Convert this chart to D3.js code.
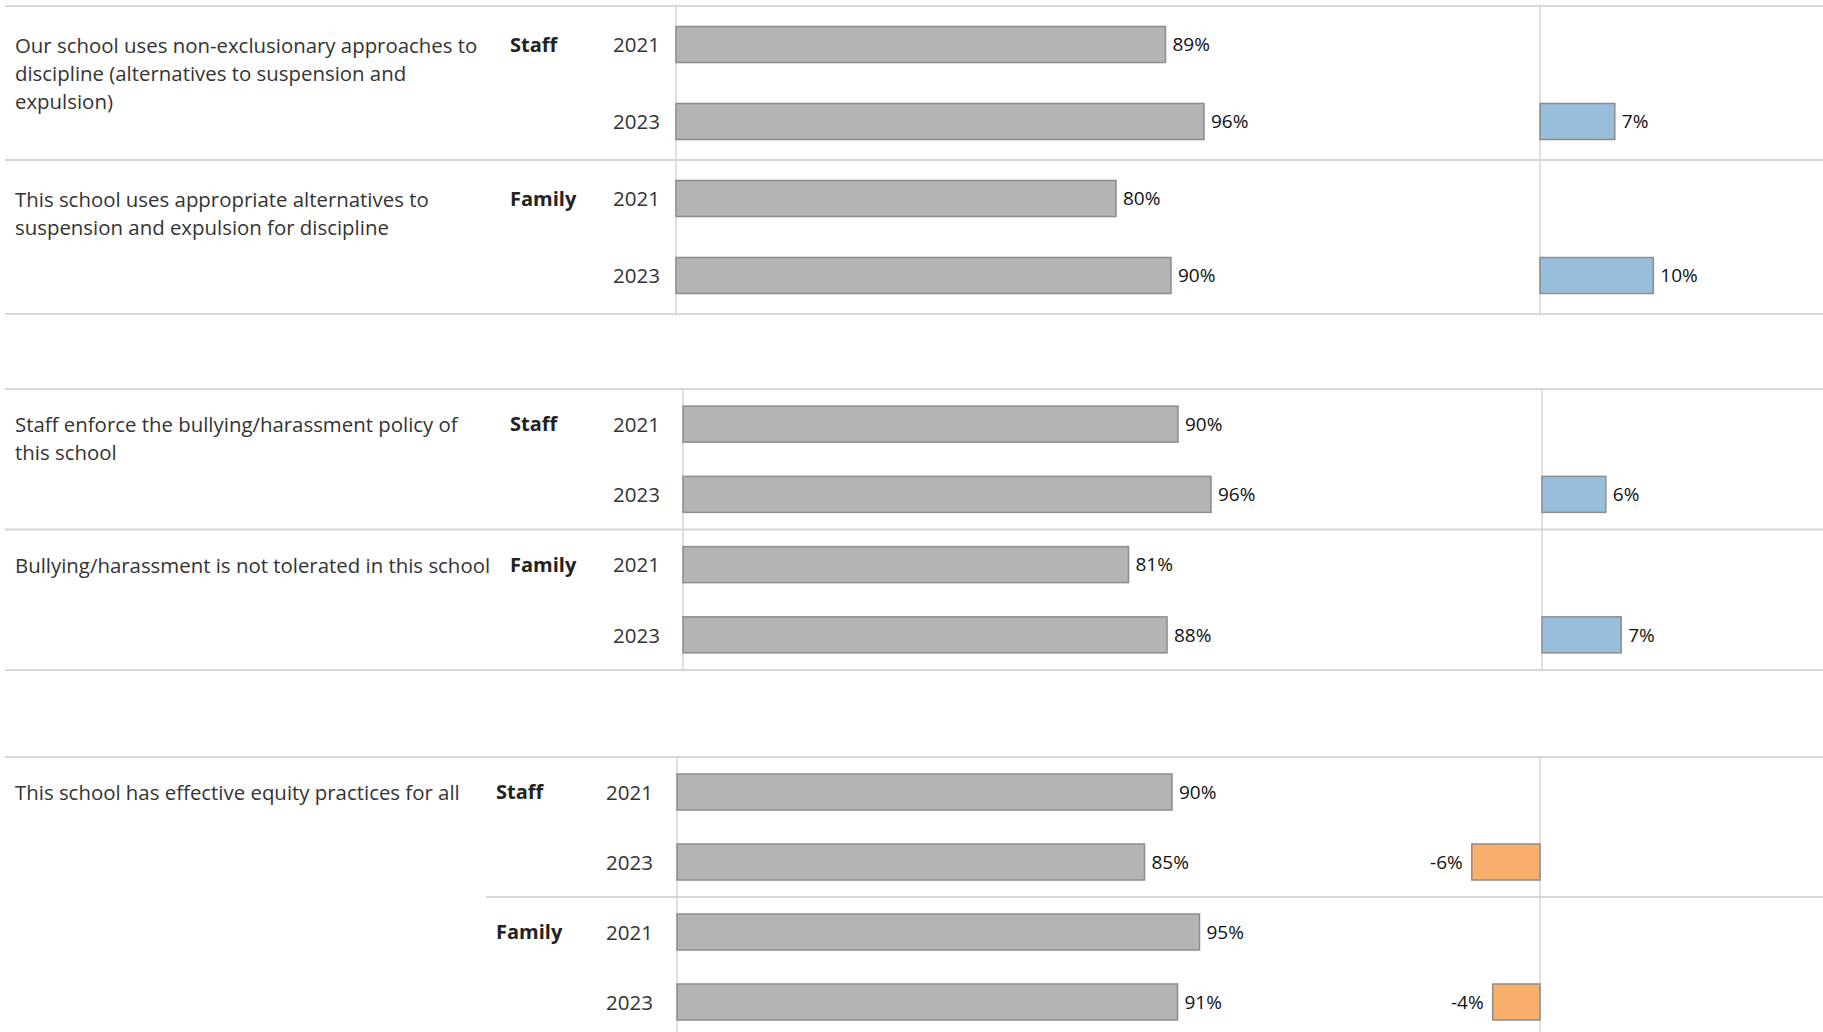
<!DOCTYPE html>
<html>
<head>
<meta charset="utf-8">
<script src="https://cdn.jsdelivr.net/npm/d3@7"></script>
<style>
    body { margin: 0; background: #fff; }
    svg { display: block; font-family: "Open Sans", Roboto, sans-serif; }
    .question { font-size: 20.4px; fill: #333; }
    .group { font-size: 20px; font-weight: bold; fill: #222; }
    .year { font-size: 20.5px; fill: #333; }
    .val { font-size: 19px; fill: #111; }
    .grid { stroke: #d6d6d6; }
</style>
</head>
<body>
<svg id="chart" width="1823" height="1032"></svg>
<script>
// survey items, one per question
const questions = [
    "Our school uses non-exclusionary approaches to\ndiscipline (alternatives to suspension and\nexpulsion)",
    "This school uses appropriate alternatives to\nsuspension and expulsion for discipline",
    "Staff enforce the bullying/harassment policy of\nthis school",
    "Bullying/harassment is not tolerated in this school",
    "This school has effective equity practices for all"
];
// one entry per row (question x respondent group)
const rowQuestion = [0, 1, 2, 3, 4, 4];
const rowGroup = ["Staff", "Family", "Staff", "Family", "Staff", "Family"];
const rowPanel = [0, 0, 1, 1, 2, 2];
const years = ["2021", "2023"];
const pct2021 = [89, 80, 90, 81, 90, 95];
const pct2023 = [96, 90, 96, 88, 85, 91];
// change 2021 -> 2023 (percentage points, before rounding)
const change = [6.8, 10.3, 5.8, 7.2, -6.2, -4.3];

/** panel layout (one tableau sheet each) */
const panels = [
    {top: 6, rowH: 154, axisX: 676, divX: 1540, groupX: 510, yearX: 660, sepX: 5},
    {top: 389, rowH: 140.5, axisX: 683, divX: 1542, groupX: 510, yearX: 660, sepX: 5},
    {top: 757, rowH: 140, axisX: 677, divX: 1540, groupX: 496, yearX: 653, sepX: 486}
];

const W = 1823, H = 1032;
const svg = d3.select("#chart");
const fmt = v => Math.round(v) + "%";

panels.forEach(function(p, pi) {
    let rows = d3.range(rowPanel.length).filter(i => rowPanel[i] === pi);
    let bottom = p.top + rows.length * p.rowH;

    let yRow = d3.scaleBand().domain(rows).range([p.top, bottom]);
    let pad = 1 - 72 / p.rowH;
    let yYear = d3.scaleBand().domain(years).range([0, p.rowH]).paddingInner(pad).paddingOuter(pad / 2);

    let x = d3.scaleLinear().domain([0, 100]).range([p.axisX, p.axisX + 550]);
    let xc = d3.scaleLinear().domain([0, 10]).range([p.divX, p.divX + 110]);

    let g = svg.append("g");

    // grid lines
    g.append("line").attr("class", "grid")
        .attr("x1", 5).attr("x2", W).attr("y1", p.top).attr("y2", p.top)
        .attr("stroke-width", 2);
    rows.slice(1).forEach(function(r) {
        g.append("line").attr("class", "grid")
            .attr("x1", p.sepX).attr("x2", W).attr("y1", yRow(r)).attr("y2", yRow(r))
            .attr("stroke-width", 2);
    });
    let lineBottom = Math.min(bottom, H);
    if (bottom < H) {
        g.append("line").attr("class", "grid")
            .attr("x1", 5).attr("x2", W).attr("y1", bottom).attr("y2", bottom)
            .attr("stroke-width", 2);
    }
    [p.axisX, p.divX].forEach(function(vx) {
        g.append("line").attr("class", "grid")
            .attr("x1", vx).attr("x2", vx).attr("y1", p.top).attr("y2", lineBottom)
            .attr("stroke-width", 1.5);
    });

    // question text (shared across rows with the same question)
    let seen = {};
    rows.forEach(function(r) {
        let q = rowQuestion[r];
        if (seen[q]) return;
        seen[q] = true;
        let t = g.append("text").attr("class", "question")
            .attr("x", 15)
            .attr("y", yRow(r) + yYear("2021") + yYear.bandwidth() / 2);
        questions[q].split("\n").forEach(function(line, li) {
            t.append("tspan").attr("x", 15).attr("dy", li === 0 ? "0.4em" : 28).text(line);
        });
    });

    rows.forEach(function(r) {
        let rg = g.append("g").attr("transform", "translate(0," + yRow(r) + ")");
        let cy = yYear("2021") + yYear.bandwidth() / 2;

        rg.append("text").attr("class", "group")
            .attr("x", p.groupX).attr("y", cy).attr("dy", "0.35em")
            .text(rowGroup[r]);

        let vals = [pct2021[r], pct2023[r]];
        let yr = rg.selectAll("g.yr").data(years).enter().append("g").attr("class", "yr");

        yr.append("text").attr("class", "year")
            .attr("x", p.yearX)
            .attr("y", d => yYear(d) + yYear.bandwidth() / 2)
            .attr("dy", "0.38em")
            .attr("text-anchor", "end")
            .text(d => d);

        yr.append("rect")
            .attr("x", x(0))
            .attr("y", d => yYear(d))
            .attr("width", (d, i) => x(vals[i]) - x(0))
            .attr("height", yYear.bandwidth())
            .attr("fill", "#b4b4b4")
            .attr("stroke", "#8c8c8c")
            .attr("stroke-width", 1.5);

        yr.append("text").attr("class", "val")
            .attr("x", (d, i) => x(vals[i]) + 7)
            .attr("y", d => yYear(d) + yYear.bandwidth() / 2)
            .attr("dy", "0.35em")
            .text((d, i) => fmt(vals[i]));

        // change bar on the 2023 line
        let c = change[r];
        let y23 = yYear("2023");
        rg.append("rect")
            .attr("x", Math.min(xc(0), xc(c)))
            .attr("y", y23)
            .attr("width", Math.abs(xc(c) - xc(0)))
            .attr("height", yYear.bandwidth())
            .attr("fill", c >= 0 ? "#97bedb" : "#f8af6c")
            .attr("stroke", "#8c8c8c")
            .attr("stroke-width", 1.5);
        rg.append("text").attr("class", "val")
            .attr("x", c >= 0 ? xc(c) + 7 : xc(c) - 9)
            .attr("y", y23 + yYear.bandwidth() / 2)
            .attr("dy", "0.35em")
            .attr("text-anchor", c >= 0 ? "start" : "end")
            .text(fmt(c));
    });
});
</script>
</body>
</html>
